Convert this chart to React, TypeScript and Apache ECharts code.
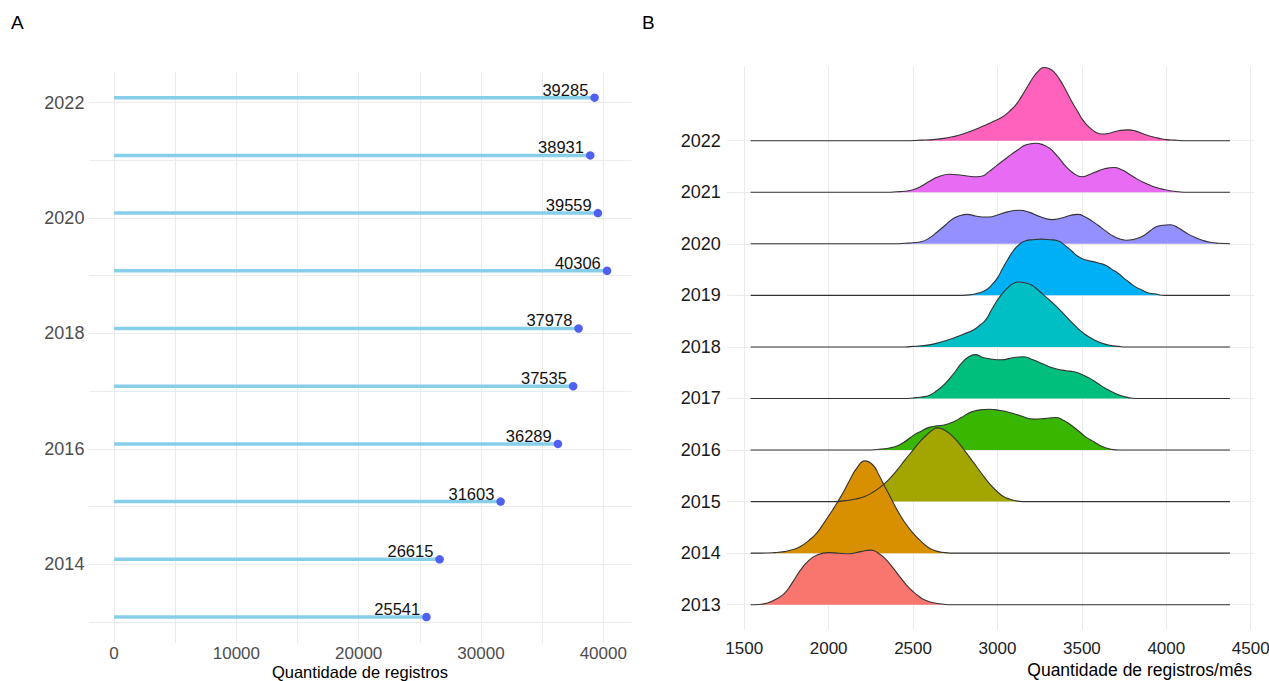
import React, { useEffect, useRef } from "react";
import * as echarts from "echarts";

// ---------- Panel A data ----------
const YEARS = [2013, 2014, 2015, 2016, 2017, 2018, 2019, 2020, 2021, 2022];
const REGISTROS = [25541, 26615, 31603, 36289, 37535, 37978, 40306, 39559, 38931, 39285];
const A_X_LABELS = [0, 10000, 20000, 30000, 40000];
const A_X_GRID = [0, 5000, 10000, 15000, 20000, 25000, 30000, 35000, 40000];
const A_Y_LABELS = [2014, 2016, 2018, 2020, 2022];

// ---------- Panel B data (density heights, in units of ridge spacing) ----------
const B_X_LABELS = [1500, 2000, 2500, 3000, 3500, 4000, 4500];
const RIDGE_START = 1538;
const RIDGE_END = 4377;

const DENS_2013 = [[1538, 0], [1600, 0.01], [1643, 0.04], [1690, 0.11], [1738, 0.22], [1785, 0.43], [1833, 0.67], [1880, 0.85], [1929, 0.96], [2000, 1.01], [2060, 1.0], [2119, 0.99], [2190, 1.03], [2250, 1.06], [2290, 1.01], [2333, 0.9], [2380, 0.72], [2429, 0.51], [2475, 0.33], [2524, 0.19], [2570, 0.09], [2619, 0.04], [2680, 0.01], [2740, 0]];
const DENS_2014 = [[1595, 0], [1680, 0.01], [1738, 0.03], [1790, 0.07], [1833, 0.13], [1880, 0.24], [1929, 0.39], [1975, 0.6], [2024, 0.84], [2060, 1.03], [2095, 1.23], [2130, 1.45], [2167, 1.65], [2214, 1.79], [2262, 1.71], [2300, 1.5], [2333, 1.29], [2370, 1.06], [2405, 0.84], [2450, 0.6], [2500, 0.39], [2550, 0.22], [2595, 0.1], [2640, 0.04], [2690, 0.01], [2750, 0]];
const DENS_2015 = [[2040, 0], [2100, 0.02], [2160, 0.05], [2214, 0.1], [2262, 0.18], [2310, 0.29], [2360, 0.44], [2405, 0.61], [2450, 0.8], [2500, 1.0], [2545, 1.18], [2583, 1.3], [2615, 1.39], [2643, 1.43], [2680, 1.4], [2726, 1.29], [2770, 1.14], [2810, 0.97], [2860, 0.75], [2905, 0.55], [2950, 0.36], [3000, 0.19], [3035, 0.1], [3071, 0.05], [3120, 0.01], [3170, 0]];
const DENS_2016 = [[2250, 0], [2310, 0.02], [2360, 0.04], [2405, 0.08], [2450, 0.16], [2500, 0.28], [2550, 0.37], [2595, 0.44], [2640, 0.47], [2690, 0.49], [2740, 0.55], [2786, 0.63], [2820, 0.7], [2857, 0.75], [2900, 0.78], [2952, 0.79], [3010, 0.77], [3071, 0.73], [3140, 0.66], [3214, 0.6], [3280, 0.61], [3345, 0.63], [3390, 0.58], [3429, 0.5], [3480, 0.37], [3524, 0.25], [3571, 0.16], [3620, 0.07], [3667, 0.02], [3720, 0]];
const DENS_2017 = [[2450, 0], [2500, 0.01], [2550, 0.03], [2595, 0.06], [2640, 0.15], [2690, 0.29], [2740, 0.48], [2786, 0.68], [2830, 0.81], [2869, 0.85], [2910, 0.8], [2952, 0.77], [3024, 0.75], [3090, 0.79], [3155, 0.81], [3210, 0.75], [3262, 0.68], [3320, 0.6], [3381, 0.55], [3430, 0.53], [3476, 0.5], [3510, 0.45], [3548, 0.39], [3595, 0.29], [3643, 0.19], [3690, 0.11], [3738, 0.05], [3790, 0.01], [3840, 0]];
const DENS_2018 = [[2450, 0], [2500, 0.01], [2595, 0.04], [2660, 0.09], [2738, 0.17], [2800, 0.25], [2857, 0.33], [2895, 0.42], [2929, 0.52], [2965, 0.72], [3000, 0.91], [3035, 1.06], [3071, 1.18], [3100, 1.24], [3131, 1.26], [3165, 1.24], [3202, 1.2], [3245, 1.09], [3286, 0.97], [3335, 0.83], [3381, 0.68], [3430, 0.51], [3476, 0.36], [3520, 0.24], [3571, 0.14], [3620, 0.07], [3667, 0.03], [3720, 0.01], [3760, 0]];
const DENS_2019 = [[2750, 0], [2833, 0.01], [2880, 0.04], [2929, 0.1], [2965, 0.2], [3000, 0.34], [3030, 0.52], [3060, 0.69], [3095, 0.87], [3130, 0.99], [3167, 1.06], [3210, 1.08], [3260, 1.09], [3310, 1.08], [3357, 1.06], [3400, 0.97], [3440, 0.86], [3476, 0.76], [3520, 0.69], [3571, 0.65], [3610, 0.62], [3643, 0.58], [3680, 0.5], [3714, 0.43], [3750, 0.33], [3786, 0.24], [3820, 0.16], [3857, 0.1], [3890, 0.05], [3929, 0.03], [3990, 0]];
const DENS_2020 = [[2400, 0], [2452, 0.01], [2500, 0.02], [2548, 0.04], [2595, 0.11], [2643, 0.23], [2690, 0.36], [2738, 0.49], [2780, 0.55], [2821, 0.57], [2870, 0.54], [2910, 0.52], [2952, 0.52], [3000, 0.56], [3060, 0.62], [3131, 0.65], [3190, 0.61], [3250, 0.53], [3321, 0.47], [3380, 0.5], [3430, 0.55], [3476, 0.57], [3520, 0.52], [3560, 0.44], [3595, 0.36], [3640, 0.25], [3690, 0.14], [3730, 0.09], [3762, 0.07], [3810, 0.09], [3857, 0.14], [3900, 0.24], [3940, 0.33], [3980, 0.36], [4024, 0.37], [4070, 0.31], [4119, 0.21], [4165, 0.13], [4214, 0.07], [4260, 0.03], [4310, 0.01], [4377, 0]];
const DENS_2021 = [[2350, 0], [2405, 0.01], [2450, 0.02], [2500, 0.05], [2550, 0.12], [2595, 0.21], [2650, 0.3], [2714, 0.35], [2760, 0.34], [2810, 0.32], [2860, 0.3], [2905, 0.31], [2950, 0.4], [3000, 0.53], [3060, 0.68], [3119, 0.82], [3170, 0.92], [3226, 0.95], [3270, 0.92], [3310, 0.85], [3360, 0.68], [3405, 0.5], [3450, 0.37], [3500, 0.3], [3550, 0.35], [3595, 0.41], [3640, 0.46], [3690, 0.48], [3740, 0.43], [3786, 0.34], [3830, 0.25], [3881, 0.17], [3930, 0.1], [3976, 0.06], [4020, 0.03], [4071, 0.01], [4130, 0]];
const DENS_2022 = [[2450, 0], [2548, 0.01], [2620, 0.02], [2690, 0.05], [2740, 0.08], [2786, 0.12], [2845, 0.19], [2905, 0.27], [2960, 0.35], [3024, 0.45], [3071, 0.57], [3110, 0.7], [3143, 0.86], [3180, 1.06], [3214, 1.24], [3245, 1.36], [3274, 1.42], [3305, 1.4], [3333, 1.34], [3370, 1.18], [3405, 0.98], [3440, 0.76], [3476, 0.56], [3510, 0.38], [3548, 0.25], [3585, 0.16], [3619, 0.13], [3655, 0.14], [3690, 0.17], [3730, 0.2], [3774, 0.21], [3815, 0.19], [3857, 0.14], [3900, 0.09], [3952, 0.05], [4000, 0.02], [4048, 0.01], [4120, 0]];

const RIDGES = [DENS_2013, DENS_2014, DENS_2015, DENS_2016, DENS_2017, DENS_2018, DENS_2019, DENS_2020, DENS_2021, DENS_2022];

// ---------- styles ----------
const RIDGE_COLORS = ["#F8766D", "#D89000", "#A3A500", "#39B600", "#00BF7D", "#00BFC4", "#00B0F6", "#9590FF", "#E76BF3", "#FF62BC"];
const FONT = "'Liberation Sans', Arial, Helvetica, sans-serif";
const GRID_COLOR = "#ebebeb";

function withEnds(d: number[][]): number[][] {
  const out = d.slice();
  if (out[0][0] > RIDGE_START) out.unshift([RIDGE_START, 0]);
  if (out[out.length - 1][0] < RIDGE_END) out.push([RIDGE_END, 0]);
  return out;
}

const plain = (v: number) => String(v);

export default function App() {
  const ref = useRef<HTMLDivElement>(null);

  useEffect(() => {
    if (!ref.current) return;
    const chart = echarts.init(ref.current, null, { renderer: "svg" });

    const ridgeIdx = YEARS.map((_, i) => i);

    const ridgeSeries = RIDGES.map((d, i) => ({
      type: "line",
      name: String(YEARS[i]),
      xAxisIndex: 1,
      yAxisIndex: 2,
      data: withEnds(d).map(([x, h]) => [x, i + h]),
      smooth: 0.5,
      showSymbol: false,
      symbol: "none",
      clip: false,
      lineStyle: { color: "#333333", width: 1.1 },
      areaStyle: { color: RIDGE_COLORS[i], opacity: 1, origin: i },
      silent: true,
    })).reverse();

    const option: any = {
      animation: false,
      backgroundColor: "#ffffff",
      textStyle: { fontFamily: FONT },
      grid: [
        { left: 89.4, top: 71.7, width: 542.3, height: 571.3, containLabel: false, outerBoundsMode: "none" },
        { left: 726.7, top: 66.7, width: 527.2, height: 563.3, containLabel: false, outerBoundsMode: "none" },
      ],
      xAxis: [
        {
          type: "value",
          gridIndex: 0,
          min: -2015,
          max: 42321,
          axisLine: { show: false },
          axisTick: { show: false, customValues: A_X_GRID },
          axisLabel: { customValues: A_X_LABELS, formatter: plain, color: "#4d4d4d", fontSize: 17, margin: 2, fontFamily: FONT },
          splitLine: { show: true, lineStyle: { color: GRID_COLOR, width: 1 } },
        },
        {
          type: "value",
          gridIndex: 1,
          min: 1396,
          max: 4519,
          axisLine: { show: false },
          axisTick: { show: false, customValues: B_X_LABELS },
          axisLabel: { customValues: B_X_LABELS, formatter: plain, color: "#222222", fontSize: 17, margin: 10, fontFamily: FONT },
          splitLine: { show: true, lineStyle: { color: GRID_COLOR, width: 1 } },
        },
      ],
      yAxis: [
        { type: "value", gridIndex: 0, min: 2012.55, max: 2022.45, show: false, position: "right" },
        {
          type: "value",
          gridIndex: 0,
          position: "left",
          min: 2012.635,
          max: 2022.535,
          axisLine: { show: false },
          axisTick: { show: false, customValues: YEARS },
          axisLabel: { customValues: A_Y_LABELS, formatter: plain, color: "#4d4d4d", fontSize: 18, margin: 5, fontFamily: FONT },
          splitLine: { show: true, lineStyle: { color: GRID_COLOR, width: 1 } },
        },
        {
          type: "value",
          gridIndex: 1,
          position: "left",
          min: -0.49,
          max: 10.435,
          axisLine: { show: false },
          axisTick: { show: false, customValues: ridgeIdx },
          axisLabel: {
            customValues: ridgeIdx,
            formatter: (v: number) => String(YEARS[Math.round(v)]),
            color: "#1a1a1a",
            fontSize: 18,
            margin: 6,
            verticalAlign: "middle",
            padding: [0, 0, 10, 0],
            fontFamily: FONT,
          },
          splitLine: { show: true, lineStyle: { color: GRID_COLOR, width: 1 } },
        },
      ],
      series: [
        {
          type: "custom",
          xAxisIndex: 0,
          yAxisIndex: 0,
          data: REGISTROS.map((v, i) => [v, YEARS[i]]),
          encode: { x: 0, y: 1 },
          clip: false,
          silent: true,
          renderItem: (_p: any, api: any) => {
            const v = api.value(0);
            const y = api.value(1);
            const a = api.coord([0, y]);
            const b = api.coord([v, y]);
            return {
              type: "line",
              shape: { x1: a[0], y1: a[1], x2: b[0], y2: b[1] },
              style: { stroke: "#87CEEB", lineWidth: 3.5 },
            };
          },
        },
        {
          type: "scatter",
          xAxisIndex: 0,
          yAxisIndex: 0,
          data: REGISTROS.map((v, i) => [v, YEARS[i]]),
          symbolSize: 8.5,
          itemStyle: { color: "#5060F0", opacity: 1 },
          silent: true,
          label: {
            show: true,
            position: "left",
            distance: 2,
            offset: [0, -8],
            formatter: (p: any) => String(p.value[0]),
            color: "#111111",
            fontSize: 16.5,
            fontFamily: FONT,
          },
        },
        ...ridgeSeries,
      ],
      graphic: [
        { type: "text", left: 11, top: 13, style: { text: "A", fontSize: 19, fill: "#000", fontFamily: FONT } },
        { type: "text", left: 642, top: 13, style: { text: "B", fontSize: 19, fill: "#000", fontFamily: FONT } },
        {
          type: "text",
          x: 360,
          y: 672,
          style: { text: "Quantidade de registros", fontSize: 16.5, fill: "#000", fontFamily: FONT, align: "center", verticalAlign: "middle" },
        },
        {
          type: "text",
          x: 1252,
          y: 670,
          style: { text: "Quantidade de registros/mês", fontSize: 17.5, fill: "#000", fontFamily: FONT, align: "right", verticalAlign: "middle" },
        },
      ],
    };

    chart.setOption(option);
    return () => chart.dispose();
  }, []);

  return (
    <div
      ref={ref}
      style={{ position: "fixed", left: 0, top: 0, width: 1269, height: 681, background: "#fff" }}
    />
  );
}
